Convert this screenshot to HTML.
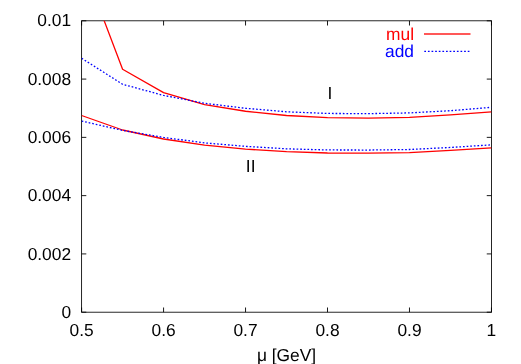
<!DOCTYPE html>
<html><head><meta charset="utf-8"><title>plot</title>
<style>
html,body{margin:0;padding:0;background:#fff;}
svg{display:block;will-change:transform;opacity:0.999;}
text{font-family:"Liberation Sans",sans-serif;font-size:17.36px;fill:#000;text-rendering:geometricPrecision;}
</style></head>
<body>
<svg width="521" height="364" viewBox="0 0 521 364">
<rect x="0" y="0" width="521" height="364" fill="#ffffff"/>
<defs><clipPath id="c"><rect x="81.6" y="20.8" width="409.85" height="291.4"/></clipPath></defs>
<g fill="none" stroke-linejoin="miter" stroke-linecap="butt">
<path d="M81.60 312.2 v-4.7 M81.60 20.8 v4.7 M163.57 312.2 v-4.7 M163.57 20.8 v4.7 M245.54 312.2 v-4.7 M245.54 20.8 v4.7 M327.51 312.2 v-4.7 M327.51 20.8 v4.7 M409.48 312.2 v-4.7 M409.48 20.8 v4.7 M491.45 312.2 v-4.7 M491.45 20.8 v4.7 M81.6 312.20 h4.7 M491.45 312.20 h-4.7 M81.6 253.92 h4.7 M491.45 253.92 h-4.7 M81.6 195.64 h4.7 M491.45 195.64 h-4.7 M81.6 137.36 h4.7 M491.45 137.36 h-4.7 M81.6 79.08 h4.7 M491.45 79.08 h-4.7 M81.6 20.80 h4.7 M491.45 20.80 h-4.7" stroke="#000" stroke-width="0.9"/>
<rect x="81.6" y="20.8" width="409.85" height="291.40" stroke="#000" stroke-width="0.85"/>
<g clip-path="url(#c)" stroke-linejoin="round">
<polyline points="81.60,-38.80 122.58,69.25 163.57,92.60 204.56,104.55 245.54,111.25 286.52,115.50 327.51,117.70 368.50,118.20 409.48,117.30 450.47,114.90 491.45,111.80" stroke="#ff0000" stroke-width="1.3"/>
<polyline points="81.60,58.25 122.58,84.25 163.57,95.40 204.56,103.30 245.54,108.25 286.52,111.80 327.51,113.45 368.50,113.65 409.48,112.90 450.47,110.70 491.45,107.30" stroke="#0000ff" stroke-width="1.3" stroke-dasharray="1.7 1.92"/>
<polyline points="81.60,115.50 122.58,130.00 163.57,139.00 204.56,145.20 245.54,149.10 286.52,151.65 327.51,153.00 368.50,153.15 409.48,152.70 450.47,150.40 491.45,147.80" stroke="#ff0000" stroke-width="1.3"/>
<polyline points="81.60,121.05 122.58,130.40 163.57,137.40 204.56,142.90 245.54,146.35 286.52,148.80 327.51,149.95 368.50,150.05 409.48,149.50 450.47,147.45 491.45,144.85" stroke="#0000ff" stroke-width="1.3" stroke-dasharray="1.7 1.92"/>
</g>
<path d="M424 34 H470.5" stroke="#ff2020" stroke-width="1.3"/>
<path d="M424 51.35 H470.5" stroke="#0000ff" stroke-width="1.3" stroke-dasharray="1.7 1.92" stroke-dashoffset="-0.3"/>
</g>
<text x="71.1" y="318" text-anchor="end">0</text>
<text x="71.1" y="260" text-anchor="end">0.002</text>
<text x="71.1" y="201" text-anchor="end">0.004</text>
<text x="71.1" y="143" text-anchor="end">0.006</text>
<text x="71.1" y="85" text-anchor="end">0.008</text>
<text x="71.1" y="26" text-anchor="end">0.01</text>
<text x="81.60" y="336" text-anchor="middle">0.5</text>
<text x="163.57" y="336" text-anchor="middle">0.6</text>
<text x="245.54" y="336" text-anchor="middle">0.7</text>
<text x="327.51" y="336" text-anchor="middle">0.8</text>
<text x="409.48" y="336" text-anchor="middle">0.9</text>
<text x="491.45" y="336" text-anchor="middle">1</text>
<text x="286.52" y="361" text-anchor="middle">μ [GeV]</text>
<text x="327.51" y="99">I</text>
<text x="245.84" y="172">II</text>
<text x="414.0" y="40" text-anchor="end" style="fill:#ff0000">mul</text>
<text x="414.0" y="57" text-anchor="end" style="fill:#0000ff">add</text>
</svg>
</body></html>
